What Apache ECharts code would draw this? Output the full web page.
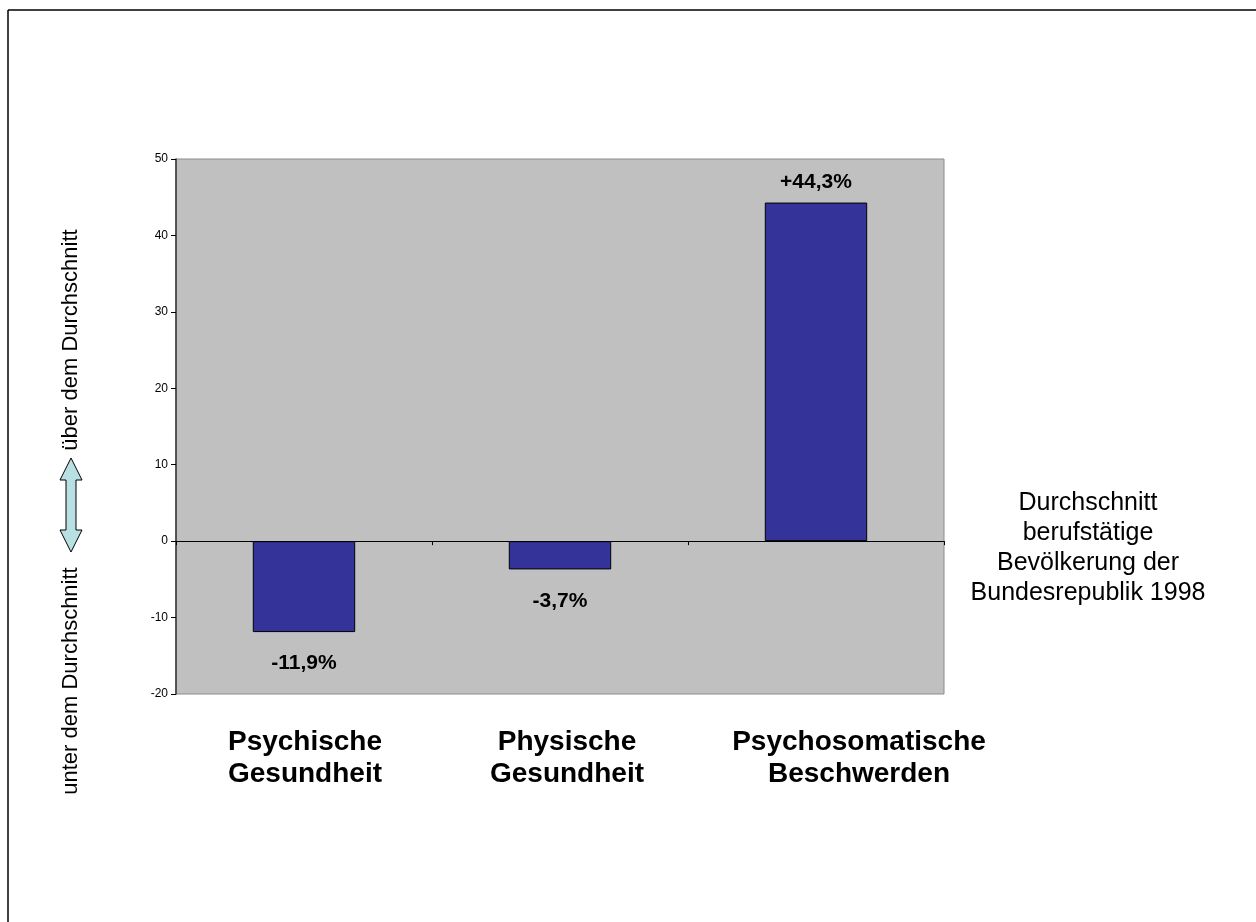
<!DOCTYPE html>
<html>
<head>
<meta charset="utf-8">
<script src="https://cdn.jsdelivr.net/npm/echarts@6/dist/echarts.min.js"></script>
<style>
  html, body { margin: 0; padding: 0; background: #fff; }
  #chart { width: 1256px; height: 922px; }
</style>
</head>
<body>
<div id="chart"></div>
<script>
// data
const categories = ['Psychische\nGesundheit', 'Physische\nGesundheit', 'Psychosomatische\nBeschwerden'];
const values = [-11.9, -3.7, 44.3];
const yMin = -20;
const yMax = 50;
const yStep = 10;
const noteLines = ['Durchschnitt', 'berufstätige', 'Bevölkerung der', 'Bundesrepublik 1998'];

const font = '"Liberation Sans", Arial, sans-serif';

function fmt(v) {
  return (v > 0 ? '+' : '') + v.toFixed(1).replace('.', ',') + '%';
}

// category captions sit a little right of the bar centre in the original
let catRich = {};
[1, 7, 43].forEach((s, i) => {
  catRich['c' + i] = {
    fontFamily: font,
    fontSize: 28,
    fontWeight: 'bold',
    lineHeight: 32,
    color: '#000',
    padding: [0, 0, 0, s * 2]
  };
});

let chart = echarts.init(document.getElementById('chart'));

let barData = values.map(v => ({
  value: v,
  label: {
    position: v < 0 ? 'bottom' : 'top',
    distance: v < 0 ? 21 : 10
  }
}));

let option = {
  animation: false,
  backgroundColor: '#fff',
  grid: {
    left: 176,
    top: 159,
    width: 768,
    height: 535,
    show: true,
    backgroundColor: '#c0c0c0',
    borderColor: '#8c8c8c',
    borderWidth: 1
  },
  xAxis: [
    {
      type: 'category',
      data: categories,
      position: 'bottom',
      axisLine: { show: false, onZero: false },
      axisTick: { show: false },
      axisLabel: {
        interval: 0,
        margin: 32,
        fontFamily: font,
        fontSize: 28,
        fontWeight: 'bold',
        lineHeight: 32,
        color: '#000',
        formatter: (val, idx) => val.split('\n').map(t => '{c' + idx + '|' + t + '}').join('\n'),
        rich: catRich
      }
    },
    {
      type: 'category',
      data: categories,
      position: 'bottom',
      axisLine: { show: true, onZero: true, lineStyle: { color: '#000', width: 1 } },
      axisTick: { show: true, interval: 0, length: 4, lineStyle: { color: '#000' } },
      axisLabel: { show: false }
    }
  ],
  yAxis: {
    type: 'value',
    min: yMin,
    max: yMax,
    interval: yStep,
    splitLine: { show: false },
    axisLine: { show: true, lineStyle: { color: '#333', width: 1.5 } },
    axisTick: { show: true, length: 5, lineStyle: { color: '#000' } },
    axisLabel: {
      margin: 8,
      fontFamily: font,
      fontSize: 12,
      color: '#000'
    }
  },
  series: [
    {
      type: 'bar',
      xAxisIndex: 0,
      data: barData,
      barWidth: '40%',
      itemStyle: {
        color: '#333399',
        borderColor: '#000',
        borderWidth: 1
      },
      label: {
        show: true,
        formatter: (p) => fmt(p.value),
        fontFamily: font,
        fontSize: 21,
        fontWeight: 'bold',
        color: '#000'
      }
    }
  ],
  graphic: [
    // page frame (top and left edge)
    { type: 'line', shape: { x1: 8, y1: 10, x2: 1256, y2: 10 }, style: { stroke: '#000', lineWidth: 1.5 } },
    { type: 'line', shape: { x1: 8, y1: 10, x2: 8, y2: 922 }, style: { stroke: '#000', lineWidth: 1.5 } },
    // side captions
    {
      type: 'text', x: 71, y: 340, rotation: Math.PI / 2,
      style: { text: 'über dem Durchschnitt', font: '22px ' + font, fill: '#000', align: 'center', verticalAlign: 'middle' }
    },
    {
      type: 'text', x: 71, y: 681, rotation: Math.PI / 2,
      style: { text: 'unter dem Durchschnitt', font: '22px ' + font, fill: '#000', align: 'center', verticalAlign: 'middle' }
    },
    // double arrow
    {
      type: 'polygon',
      shape: {
        points: [[71, 458], [82, 480], [76, 480], [76, 530], [82, 530], [71, 552],
                 [60, 530], [66, 530], [66, 480], [60, 480]]
      },
      style: { fill: '#b8e0e2', stroke: '#000', lineWidth: 1 }
    },
    {
      type: 'text', x: 1088, y: 548,
      style: {
        text: noteLines.join('\n'),
        font: '25px ' + font,
        lineHeight: 30,
        fill: '#000',
        align: 'center',
        verticalAlign: 'middle'
      }
    }
  ]
};

chart.setOption(option);
</script>
</body>
</html>
